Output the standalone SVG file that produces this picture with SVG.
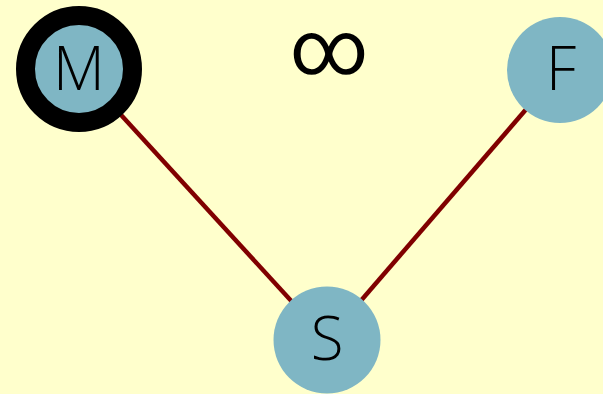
<svg xmlns="http://www.w3.org/2000/svg" width="603" height="394" viewBox="0 0 603 394">
<style>
.node{fill:#7fb6c4}
.lbl{font-family:"Open Sans","Liberation Sans",sans-serif;font-weight:300;font-size:60px;fill:#000;text-anchor:middle}
.edge{stroke:#800000;stroke-width:4.5;fill:none}
</style>
<rect width="603" height="394" fill="#ffffcc"/>
<g id="connectors">
<line class="edge" x1="79" y1="69" x2="327" y2="340"/>
<line class="edge" x1="560" y1="70" x2="327" y2="340"/>
</g>
<g id="node-M">
<circle class="node" cx="79" cy="69" r="53.5" stroke="#000" stroke-width="19"/>
<text class="lbl" x="79" y="90">M</text>
</g>
<g id="node-F">
<circle class="node" cx="560" cy="70" r="53"/>
<text class="lbl" x="561" y="90">F</text>
</g>
<g id="node-S">
<circle class="node" cx="327" cy="340" r="53.5"/>
<text class="lbl" x="327" y="360">S</text>
</g>
<g id="infinity">
<text x="329" y="74" style="font-family:Roboto,sans-serif;font-size:76px;text-anchor:middle;fill:#000">∞</text>
</g>
</svg>
